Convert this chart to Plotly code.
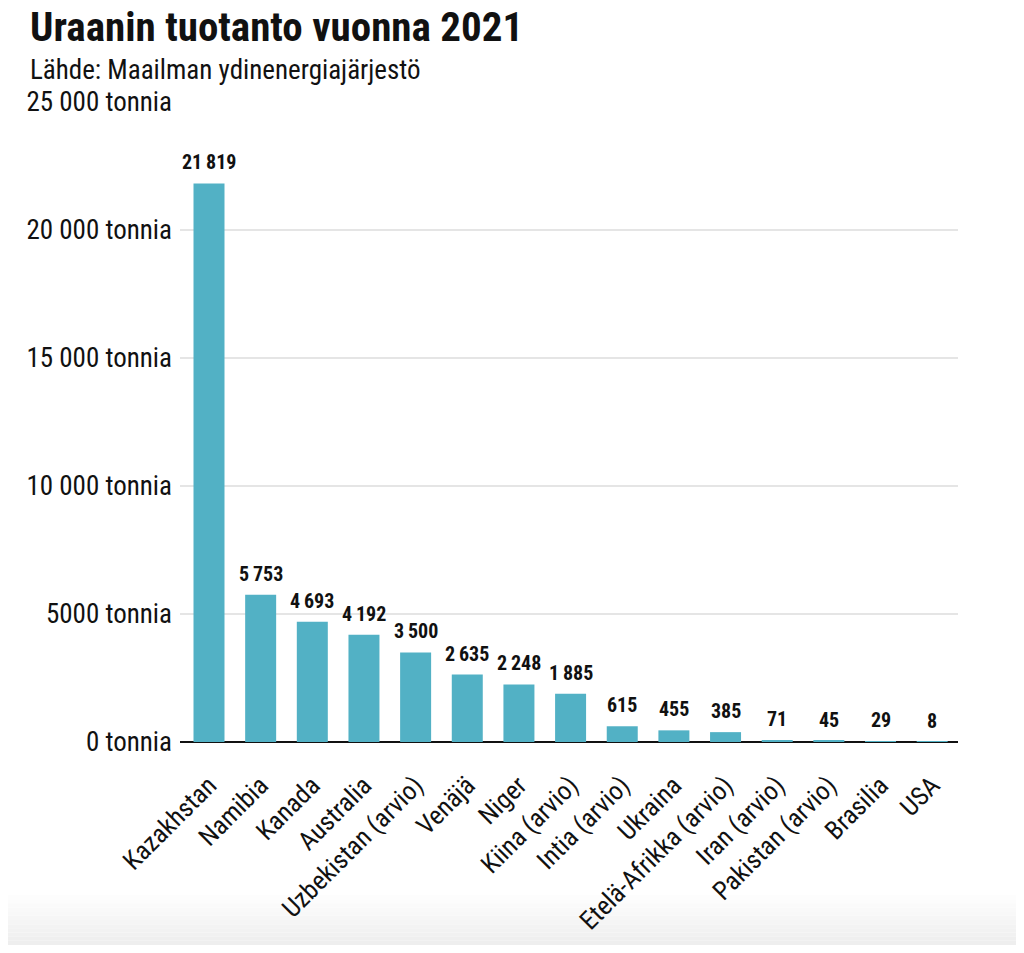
import plotly.graph_objects as go

countries = ["Kazakhstan", "Namibia", "Kanada", "Australia", "Uzbekistan (arvio)", "Venäjä",
             "Niger", "Kiina (arvio)", "Intia (arvio)", "Ukraina", "Etelä-Afrikka (arvio)",
             "Iran (arvio)", "Pakistan (arvio)", "Brasilia", "USA"]
values = [21819, 5753, 4693, 4192, 3500, 2635, 2248, 1885, 615, 455, 385, 71, 45, 29, 8]
tick_vals = [0, 5000, 10000, 15000, 20000, 25000]
tick_text = ["0 tonnia", "5000 tonnia", "10 000 tonnia", "15 000 tonnia", "20 000 tonnia", "25 000 tonnia"]

FONT = "Liberation Sans Narrow, Roboto Condensed, Roboto, sans-serif"

labels = [f"{v:,}".replace(",", "\u2009") for v in values]

# figure is offset by the page's 8px body margin
W, H = 1008, 937
L, R, T, B = 172, 58, 94, 203
PW, PH = W - L - R, H - T - B

fig = go.Figure(go.Bar(
    x=countries, y=values,
    marker=dict(color="#52b1c5", line=dict(width=0)),
    hoverinfo="x+y",
))

annotations = [
    dict(x=c, y=v, text=f"<b>{t}</b>", showarrow=False, yanchor="bottom", yshift=7,
         font=dict(family=FONT, size=20, color="#111111"))
    for c, v, t in zip(countries, values, labels)
]
annotations += [
    dict(text="<b>Uraanin tuotanto vuonna 2021</b>", xref="paper", yref="paper",
         x=(20 - L) / PW, y=1 + (T - 19) / PH, xanchor="left", yanchor="middle", showarrow=False,
         font=dict(family=FONT, size=41, color="#111111")),
    dict(text="Lähde: Maailman ydinenergiajärjestö", xref="paper", yref="paper",
         x=(20 - L) / PW, y=1 + (T - 62) / PH, xanchor="left", yanchor="middle", showarrow=False,
         font=dict(family=FONT, size=27, color="#111111")),
]

fig.update_layout(
    width=W, height=H,
    margin=dict(l=L, r=R, t=T, b=B, autoexpand=False),
    plot_bgcolor="white", paper_bgcolor="white",
    bargap=0.4, showlegend=False,
    font=dict(family=FONT, color="#111111"),
    xaxis=dict(tickangle=-45, tickfont=dict(family=FONT, size=26, color="#111111"),
               showgrid=False, showline=False, ticks="", ticklen=0, zeroline=False,
               ticklabelstandoff=22, automargin=False),
    yaxis=dict(range=[0, 25000], tickvals=tick_vals, ticktext=tick_text,
               tickfont=dict(family=FONT, size=27, color="#111111"),
               showgrid=True, gridcolor="#e5e5e5", gridwidth=2,
               zeroline=True, zerolinecolor="#111111", zerolinewidth=2,
               ticks="", ticklen=0, ticklabelstandoff=7, showline=False, automargin=False),
    annotations=annotations,
)

# subtle bottom fade
shapes = []
n = 12
y_start = 895 - 8
step = (H - y_start) / n
for i in range(n):
    y0 = y_start + i * step
    y1 = y0 + step
    g = int(255 - (i + 1) * 1.4)
    shapes.append(dict(type="rect", xref="paper", yref="paper", layer="below",
                       x0=-L / PW, x1=1 + R / PW,
                       y0=-(y0 - (T + PH)) / PH, y1=-(y1 - (T + PH)) / PH,
                       fillcolor=f"rgb({g},{g},{g})", line=dict(width=0)))
fig.update_layout(shapes=shapes)

fig.write_html("out.html")
